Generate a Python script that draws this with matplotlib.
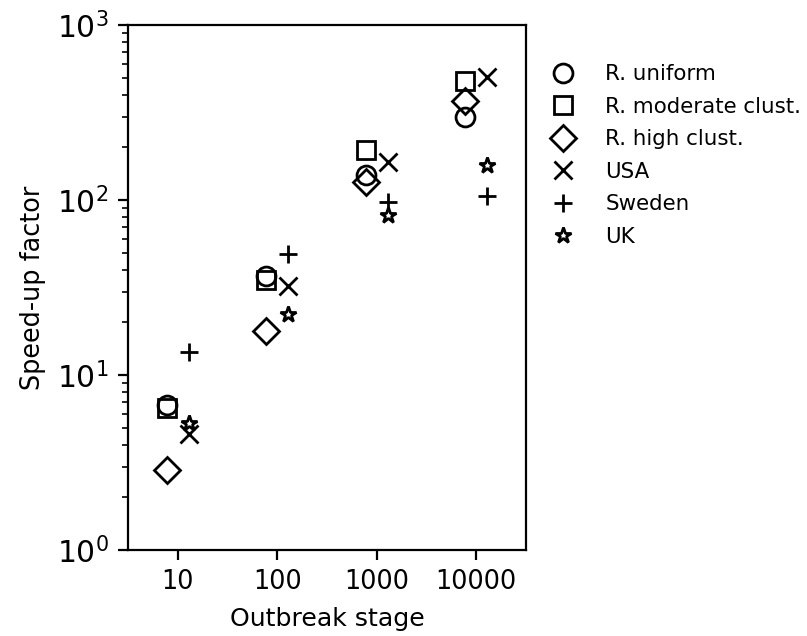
import numpy as np
import matplotlib
matplotlib.use("Agg")
import matplotlib.pyplot as plt

# outbreak stages (categorical x positions)
stages = ["10", "100", "1000", "10000"]

# speed-up factors
r_uniform = [6.7, 36.9, 139, 297]
r_moderate = [6.45, 35.0, 193, 479]
r_high = [2.87, 17.9, 127, 369]
usa = [4.6, 32.3, 164, 502]
sweden = [13.5, 49.1, 98, 105]
uk = [5.3, 22.3, 82, 158]

series = [
    ("R. uniform", r_uniform, "o", -1),
    ("R. moderate clust.", r_moderate, "s", -1),
    ("R. high clust.", r_high, "D", -1),
    ("USA", usa, "x", 1),
    ("Sweden", sweden, "+", 1),
    ("UK", uk, "*", 1),
]

fig = plt.figure(figsize=(8.07 / 2, 6.36 / 2), dpi=200)
ax = fig.add_axes([0.1586, 0.1352, 0.6518 - 0.1586, 0.9607 - 0.1352])

x = np.arange(len(stages))
shift = 0.11
for label, vals, marker, side in series:
    ms = 6.8
    if marker == "D":
        ms = 6.6
    if marker == "*":
        ms = 5.8
    ax.plot(x + side * shift, vals, linestyle="none", marker=marker,
            markersize=ms, markerfacecolor="none", markeredgecolor="black",
            markeredgewidth=1.0, color="black", label=label)

ax.set_yscale("log")
ax.set_ylim(1, 1000)
ax.set_xlim(-0.5, 3.5)
ax.set_xticks(x)
ax.set_xticklabels(stages)
ax.tick_params(axis="x", labelsize=9.2)
ax.tick_params(axis="y", which="major", labelsize=10.7)

ax.set_xlabel("Outbreak stage", fontsize=9.1)
ax.set_ylabel("Speed-up factor", fontsize=9.2)

ax.legend(loc="upper left", bbox_to_anchor=(0.99, 0.962), frameon=False,
          fontsize=7.7, labelspacing=0.585, handletextpad=1.0)

fig.savefig("out.png", dpi=200)
